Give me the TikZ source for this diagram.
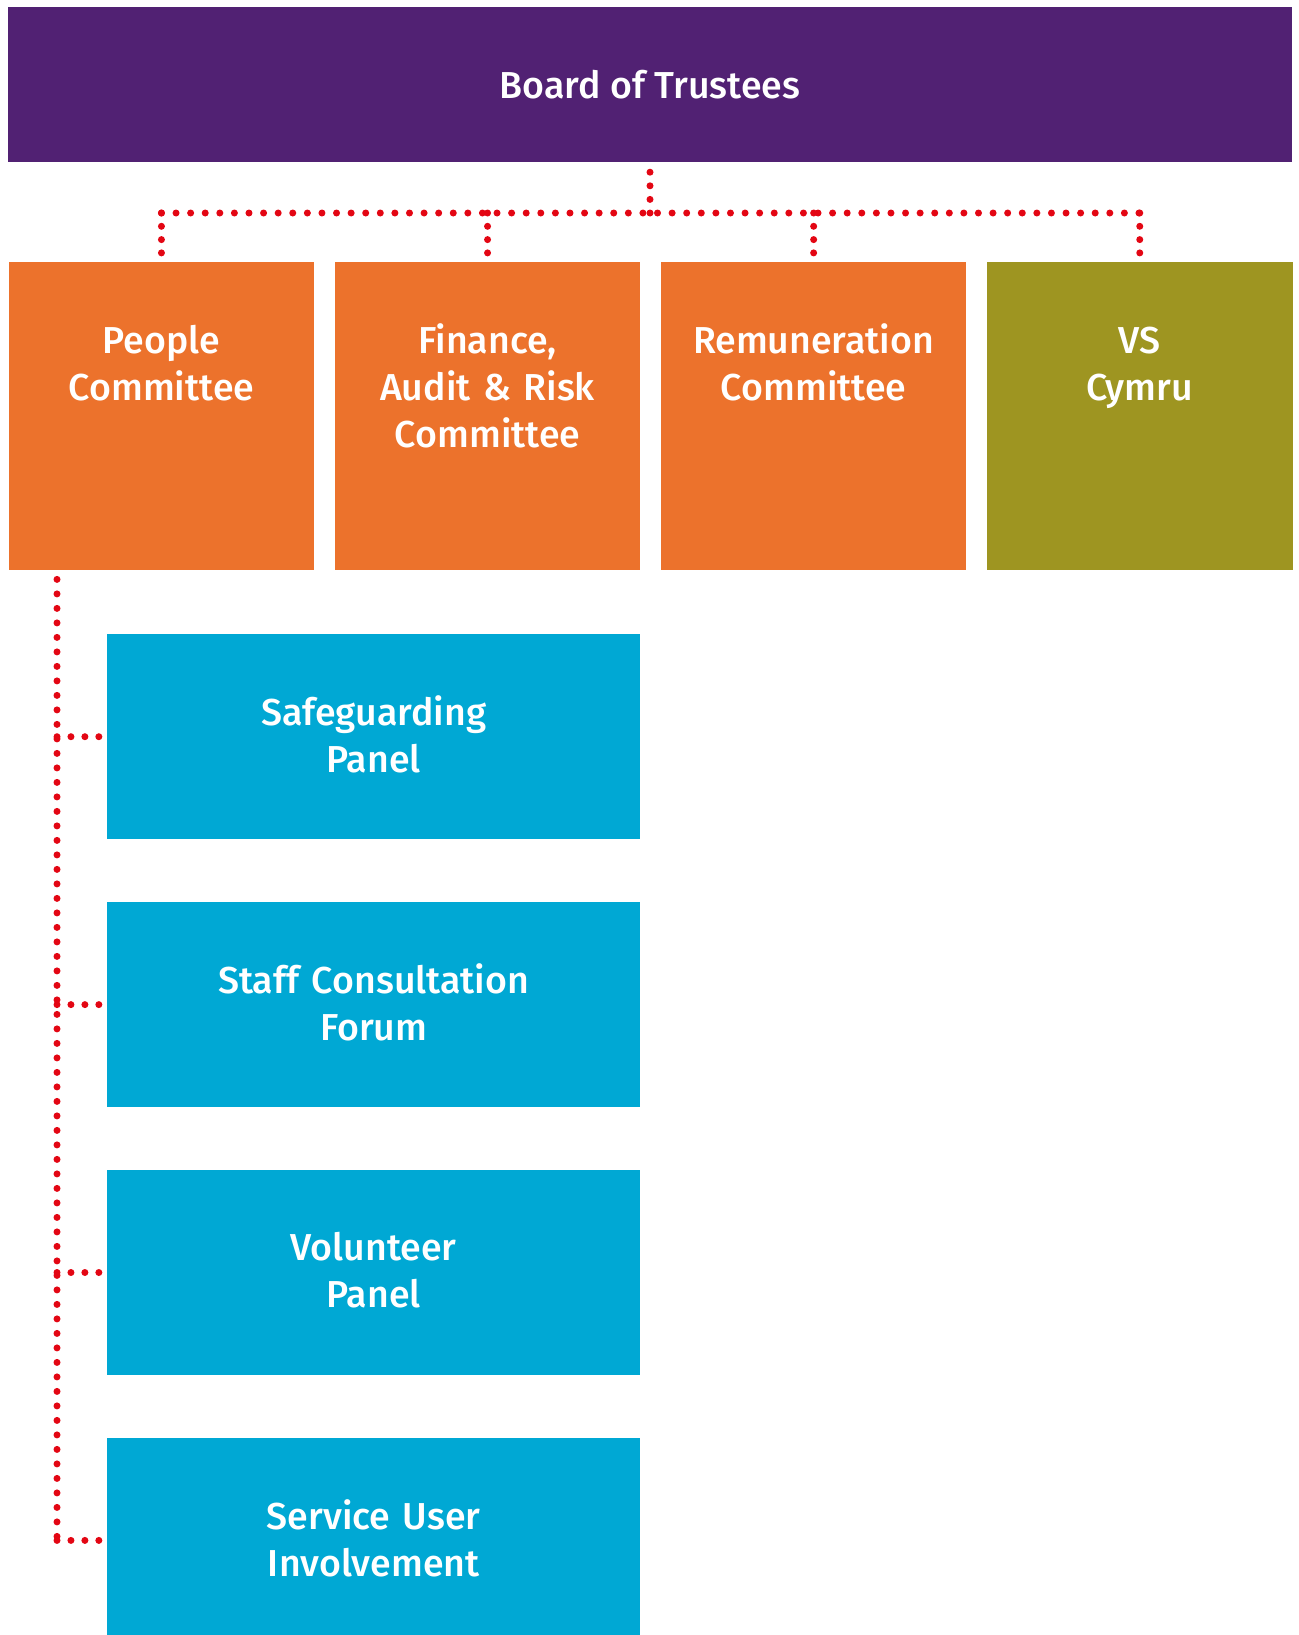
\documentclass[tikz,border=0pt]{standalone}
\usepackage{fontspec}
\setmainfont{Fira Sans Medium}
\usepackage{tikz}
\usetikzlibrary{positioning}
\definecolor{trustpurple}{HTML}{512173}
\definecolor{comorange}{HTML}{EC722C}
\definecolor{cymruolive}{HTML}{9E9521}
\definecolor{panelblue}{HTML}{00A8D4}
\definecolor{dotred}{HTML}{E30613}
\newcommand{\boxfont}{\fontsize{37.5}{47}\selectfont}

\begin{document}
\begin{tikzpicture}[x=1pt, y=-1pt, node distance=20.2pt,
  every node/.style={text=white, font=\boxfont, inner sep=0pt},
  board/.style={fill=trustpurple, minimum width=1283.5pt, minimum height=155pt},
  committee/.style={fill=comorange, minimum width=305.5pt, minimum height=308pt},
  label text/.style={anchor=base, text width=300pt, align=center},
  panel/.style={fill=panelblue, minimum width=533pt, minimum height=205pt, text width=520pt, align=center},
  dotline/.style={draw=dotred, line width=7pt, line cap=round, dash pattern=on 0pt off #1},
  dotline/.default=14.5pt]
	\useasboundingbox (0,0) rectangle (1298,1635);
	% board
	\node[board] (board) at (650,84.5) {Board of Trustees};
	% committees
	\node[committee, anchor=north west] (people) at (8.5,262) {};
	\node[committee, right=of people] (finance) {};
	\node[committee, right=of finance] (remun) {};
	\node[committee, right=of remun, fill=cymruolive] (cymru) {};
	\node[label text] (peopletxt) at ([yshift=-91pt]people.north) {People\\Committee};
	\node[label text] (financetxt) at ([yshift=-91pt]finance.north) {Finance,\\Audit \& Risk\\Committee};
	\node[label text] (remuntxt) at ([yshift=-91pt]remun.north) {Remuneration\\Committee};
	\node[label text] (cymrutxt) at ([yshift=-91pt]cymru.north) {VS\\Cymru};
	% panels
	\node[panel, anchor=north west] (safeguard) at (107,634) {Safeguarding\\Panel\vspace{4pt}};
	\node[panel, below=62.5pt of safeguard] (staff) {Staff Consultation\\Forum\vspace{4pt}};
	\node[panel, below=62.5pt of staff] (volunteer) {Volunteer\\Panel\vspace{4pt}};
	\node[panel, below=62.5pt of volunteer] (service) {Service User\\Involvement\vspace{4pt}};
	% dotted links, top
	\coordinate (bus) at (0,213);
	\draw[dotline=13.6pt] ([yshift=-10pt]board.south) -- (board.south |- bus);
	\draw[dotline=14.59pt] (people.north |- bus) -- (cymru.north |- bus);
	\foreach \c in {people,finance,remun,cymru}
		\draw[dotline=13.3pt] (\c.north |- bus) -- ([yshift=9pt]\c.north);
	% dotted links, panels
	\coordinate (spine) at ([xshift=48.5pt, yshift=-9pt]people.south west);
	\draw[dotline=14.5pt] (spine) -- (spine |- service.west);
	\foreach \p in {safeguard,staff,volunteer,service}
		\draw[dotline=13.95pt] (spine |- \p.west) -- ([xshift=-8pt]\p.west);
\end{tikzpicture}
\end{document}
